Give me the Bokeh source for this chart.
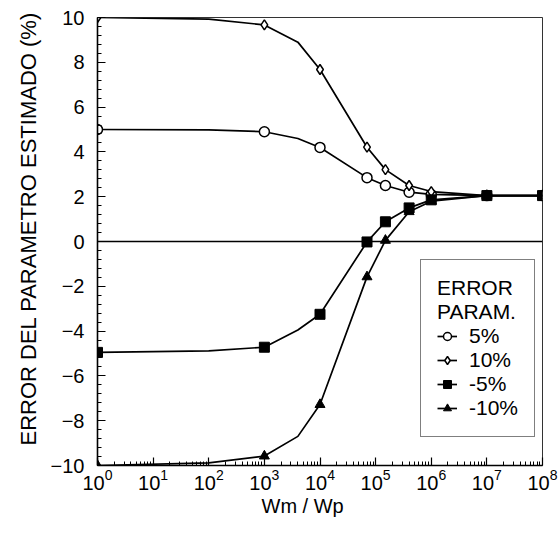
from bokeh.plotting import figure
from bokeh.models import (Range1d, FixedTicker, SingleIntervalTicker, LogTickFormatter,
                          Span, Legend, LegendItem, Title)
from bokeh.embed import file_html
from bokeh.resources import INLINE

# ---- data ----
# marker positions (Wm/Wp)
x_marks = [1, 1e3, 1e4, 7e4, 1.5e5, 4e5, 1e6, 1e7, 1e8]
err_p5 = [5.0, 4.9, 4.2, 2.85, 2.5, 2.2, 2.1, 2.05, 2.05]
err_p10 = [10.0, 9.67, 7.68, 4.21, 3.21, 2.5, 2.23, 2.05, 2.05]
err_m5 = [-4.95, -4.72, -3.25, -0.02, 0.88, 1.5, 1.86, 2.05, 2.05]
err_m10 = [-10.0, -9.58, -7.28, -1.58, 0.05, 1.33, 1.8, 2.05, 2.05]

# curve path points (markers plus a few bends)
x_curve = [1, 1e2, 1e3, 4e3, 1e4, 7e4, 1.5e5, 4e5, 1e6, 1e7, 1e8]
curve_p5 = [5.0, 4.98, 4.9, 4.6, 4.2, 2.85, 2.5, 2.2, 2.1, 2.05, 2.05]
curve_p10 = [10.0, 9.93, 9.67, 8.9, 7.68, 4.21, 3.21, 2.5, 2.23, 2.05, 2.05]
curve_m5 = [-4.95, -4.88, -4.72, -3.95, -3.25, -0.02, 0.88, 1.5, 1.86, 2.05, 2.05]
curve_m10 = [-10.0, -9.88, -9.58, -8.7, -7.28, -1.58, 0.05, 1.33, 1.8, 2.05, 2.05]

labels = ["5%", "10%", "-5%", "-10%"]
x_major = [1e0, 1e1, 1e2, 1e3, 1e4, 1e5, 1e6, 1e7, 1e8]
x_title = "Wm / Wp"
y_title = "ERROR DEL PARAMETRO ESTIMADO (%)"

FONT = "Liberation Sans"

p = figure(width=558, height=540, x_axis_type="log",
           x_range=Range1d(1, 1e8), y_range=Range1d(-10, 10),
           output_backend="svg", toolbar_location=None,
           min_border_left=97, min_border_right=16, min_border_top=17, min_border_bottom=75)
p.xgrid.visible = False
p.ygrid.visible = False
p.outline_line_color = "black"
p.outline_line_width = 1
p.outline_line_alpha = 0.8
p.background_fill_color = "white"
p.border_fill_color = "white"

# zero line
p.add_layout(Span(location=0, dimension="width", line_color="black", line_width=1.6))

minor = [m * d for d in x_major[:-1] for m in range(2, 10)]
p.xaxis.ticker = FixedTicker(ticks=x_major, minor_ticks=minor)
p.xaxis.formatter = LogTickFormatter()
p.yaxis.ticker = SingleIntervalTicker(interval=2, num_minor_ticks=5)

for ax in (p.xaxis[0], p.yaxis[0]):
    ax.axis_line_color = "black"
    ax.axis_line_width = 1.6
    ax.major_tick_in = 8
    ax.major_tick_out = 0
    ax.minor_tick_in = 4
    ax.minor_tick_out = 0
    ax.major_tick_line_color = "black"
    ax.minor_tick_line_color = "black"
    ax.major_tick_line_width = 1.2
    ax.minor_tick_line_width = 1
    ax.major_label_text_font = FONT
    ax.major_label_text_font_size = "20px"
    ax.major_label_text_color = "black"

p.xaxis.major_label_standoff = 3
p.yaxis.major_label_standoff = 13

# axis titles as side titles (placed like the original, slightly off-centre)
p.add_layout(Title(text=y_title, align="left", offset=20, standoff=14,
                   text_font=FONT, text_font_size="22px", text_font_style="normal",
                   text_color="black"), "left")
p.add_layout(Title(text=x_title, align="left", offset=164, standoff=0,
                   text_font=FONT, text_font_size="20px", text_font_style="normal",
                   text_color="black"), "below")

lw = 1.7
l1 = p.line(x_curve, curve_p5, line_color="black", line_width=lw)
s1 = p.scatter(x_marks, err_p5, marker="circle", size=10, fill_color="white",
               line_color="black", line_width=1.5)
l2 = p.line(x_curve, curve_p10, line_color="black", line_width=lw)
s2 = p.scatter(x_marks, err_p10, marker="diamond", size=10, fill_color="white",
               line_color="black", line_width=1.5)
l3 = p.line(x_curve, curve_m5, line_color="black", line_width=lw)
s3 = p.scatter(x_marks, err_m5, marker="square", size=10, fill_color="black",
               line_color="black")
l4 = p.line(x_curve, curve_m10, line_color="black", line_width=lw)
s4 = p.scatter(x_marks, err_m10, marker="triangle", size=10, fill_color="black",
               line_color="black")

legend = Legend(items=[LegendItem(label=labels[0], renderers=[l1, s1]),
                       LegendItem(label=labels[1], renderers=[l2, s2]),
                       LegendItem(label=labels[2], renderers=[l3, s3]),
                       LegendItem(label=labels[3], renderers=[l4, s4])],
                title="ERROR\nPARAM.",
                location=(323, 28))
legend.title_text_font = FONT
legend.title_text_font_size = "21px"
legend.title_text_font_style = "normal"
legend.title_text_color = "black"
legend.title_standoff = 0
legend.label_text_font = FONT
legend.label_text_font_size = "21px"
legend.label_text_color = "black"
legend.glyph_width = 20
legend.glyph_height = 22
legend.label_standoff = 12
legend.spacing = 0
legend.padding = 16
legend.margin = 0
legend.border_line_color = "black"
legend.border_line_width = 1
legend.background_fill_color = "white"
legend.background_fill_alpha = 1
p.add_layout(legend, "center")

open("out.html", "w").write(file_html(p, INLINE))
